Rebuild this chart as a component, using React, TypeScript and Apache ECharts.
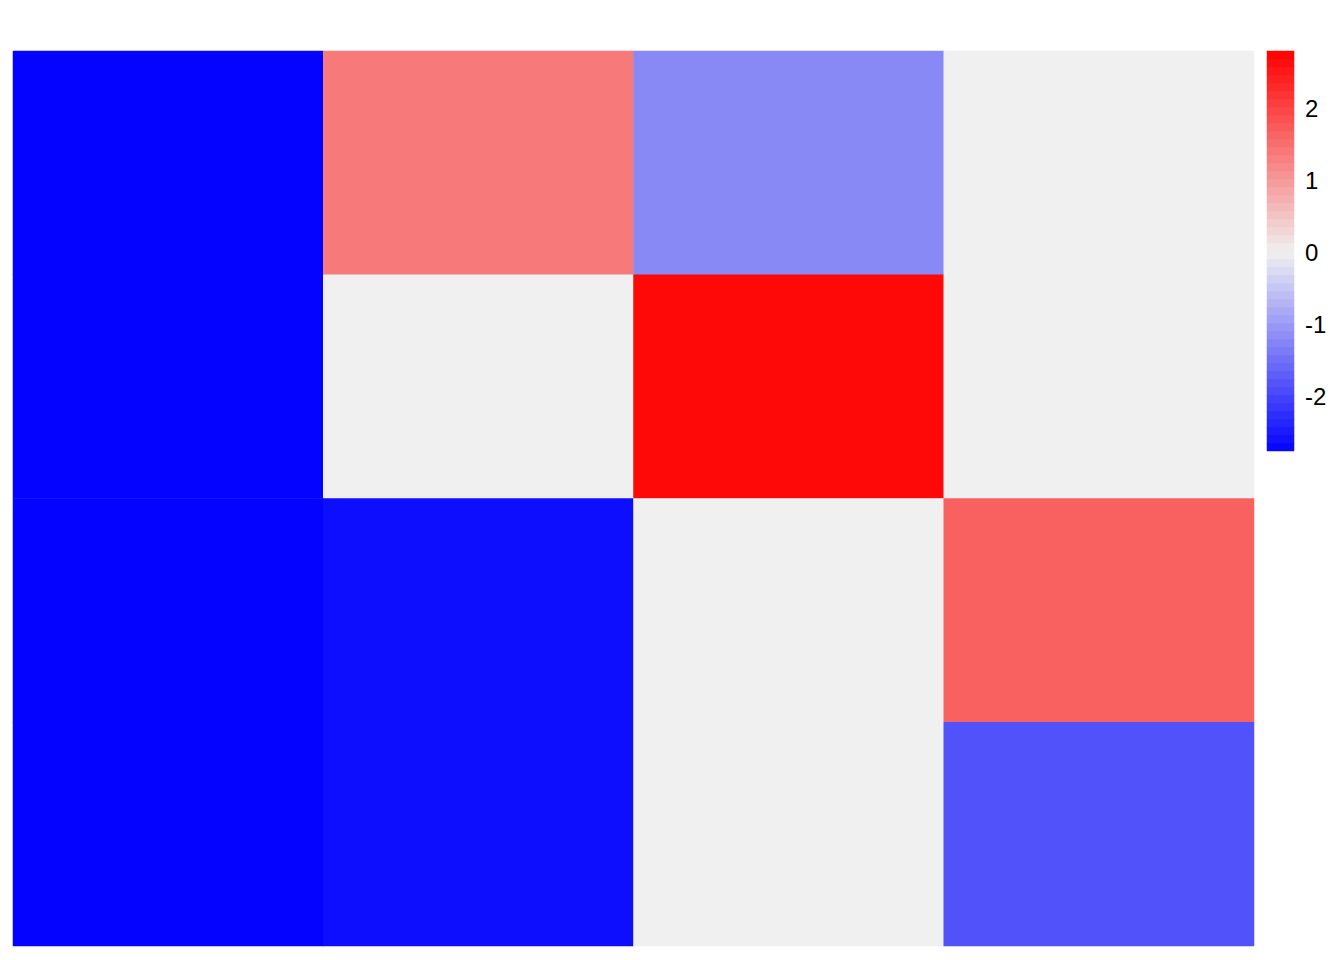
import React, { useEffect, useRef } from "react";
import * as echarts from "echarts";

const columns = ["C1", "C2", "C3", "C4"];
const rows = ["R1", "R2", "R3", "R4"];
const row1 = [-2.75, 1.38, -1.2, 0.0];
const row2 = [-2.75, 0.0, 2.7, 0.0];
const row3 = [-2.75, -2.63, 0.0, 1.67];
const row4 = [-2.75, -2.63, 0.0, -1.84];
const matrix = [row1, row2, row3, row4];

const scaleMin = -2.75;
const scaleMax = 2.79;
const colorLimit = 2.79;
const legendTicks = [-2, -1, 0, 1, 2];
const legendBins = 50;
const palette = ["#0000FF", "#F0F0F0", "#FF0000"];

export default function App() {
  const ref = useRef<HTMLDivElement>(null);
  useEffect(() => {
    if (!ref.current) return;
    const chart = echarts.init(ref.current, null, { renderer: "svg" });
    const cells: number[][] = [];
    matrix.forEach((r, ri) => r.forEach((v, ci) => cells.push([ci, ri, v])));
    const binNames: string[] = [];
    const binData: number[][] = [];
    for (let i = 0; i < legendBins; i++) {
      binNames.push("b" + i);
      binData.push([0, i, scaleMin + ((i + 0.5) * (scaleMax - scaleMin)) / legendBins]);
    }
    chart.setOption({
      animation: false,
      backgroundColor: "#ffffff",
      grid: [
        { left: 13, top: 51, width: 1241, height: 895 },
        { left: 1267, top: 51, width: 27, height: 400 },
      ],
      xAxis: [
        { type: "category", data: columns, gridIndex: 0, show: false },
        { type: "category", data: ["bar"], gridIndex: 1, show: false },
      ],
      yAxis: [
        { type: "category", data: rows, gridIndex: 0, inverse: true, show: false },
        { type: "category", data: binNames, gridIndex: 1, show: false },
        {
          type: "value",
          gridIndex: 1,
          position: "right",
          min: scaleMin,
          max: scaleMax,
          axisLine: { show: false },
          axisTick: { show: false },
          splitLine: { show: false },
          axisLabel: {
            customValues: legendTicks,
            margin: 11,
            fontSize: 24,
            color: "#000000",
            fontFamily: "Liberation Sans",
            align: "left",
          },
        },
      ],
      visualMap: {
        type: "continuous",
        show: false,
        min: -colorLimit,
        max: colorLimit,
        seriesIndex: [0, 1],
        dimension: 2,
        inRange: { color: palette },
      },
      series: [
        {
          type: "heatmap",
          xAxisIndex: 0,
          yAxisIndex: 0,
          data: cells,
          itemStyle: { borderWidth: 0 },
          emphasis: { disabled: true },
        },
        {
          type: "heatmap",
          xAxisIndex: 1,
          yAxisIndex: 1,
          data: binData,
          itemStyle: { borderWidth: 0 },
          emphasis: { disabled: true },
        },
      ],
    });
    return () => chart.dispose();
  }, []);
  return (
    <div
      ref={ref}
      style={{ position: "fixed", left: 0, top: 0, width: 1344, height: 960 }}
    />
  );
}
